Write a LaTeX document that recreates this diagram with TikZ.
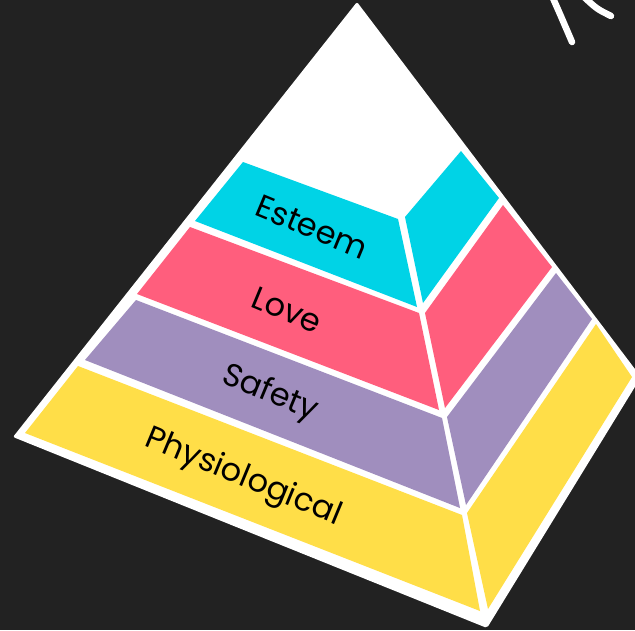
\documentclass[tikz,border=0pt]{standalone}
\usepackage{fontspec}
\setmainfont{Poppins}
\definecolor{bg}{HTML}{222222}
\definecolor{cyanb}{RGB}{0,211,230}
\definecolor{pinkb}{RGB}{255,94,125}
\definecolor{purpb}{RGB}{160,142,190}
\definecolor{yellb}{RGB}{255,222,72}
\tikzset{
  lbl/.style={font=\fontsize{32}{38}\selectfont, text=black, rotate=-22.5, inner sep=0pt},
  deco/.style={white, line width=6.5pt, line cap=round}
}
\begin{document}
\begin{tikzpicture}[x=1pt,y=-1pt]
\useasboundingbox (0,0) rectangle (635,630);
\fill[bg] (0,0) rectangle (635,630);
\clip (0,0) rectangle (635,630);
% silhouette
\fill[white, rounded corners=2pt] (357,2) -- (13,437) -- (487,628) -- (641,377) -- cycle;
% Esteem
\fill[cyanb] (243,162) -- (398,219) -- (417,307) -- (195,221) -- cycle;
\fill[cyanb] (405,217) -- (461,151) -- (499,198) -- (423,303) -- cycle;
% Love
\fill[pinkb] (190,227) -- (419,313) -- (439,410) -- (137,294) -- cycle;
\fill[pinkb] (425,313) -- (503,205) -- (552,267) -- (445,408) -- cycle;
% Safety
\fill[purpb] (136,300) -- (442,418) -- (460,508) -- (85,360) -- cycle;
\fill[purpb] (447,417) -- (556,273) -- (592,319) -- (466,505) -- cycle;
% Physiological
\fill[yellb] (78,366) -- (462,515) -- (480,611) -- (25,433) -- cycle;
\fill[yellb] (467,513) -- (596,324) -- (632,377) -- (488,609) -- cycle;
% labels
\node[lbl] (esteem) at (312,227) {Esteem};
\node[lbl] (love) at (287,310) {Love};
\node[lbl] (safety) at (270,394) {Safety};
\node[lbl] (phys) at (243,478) {Physiological};
% decorative strokes
\draw[deco] (552,-4) .. controls (560,14) .. (572,42);
\draw[deco] (584,-3) .. controls (597,9) .. (611,16);
\end{tikzpicture}
\end{document}
